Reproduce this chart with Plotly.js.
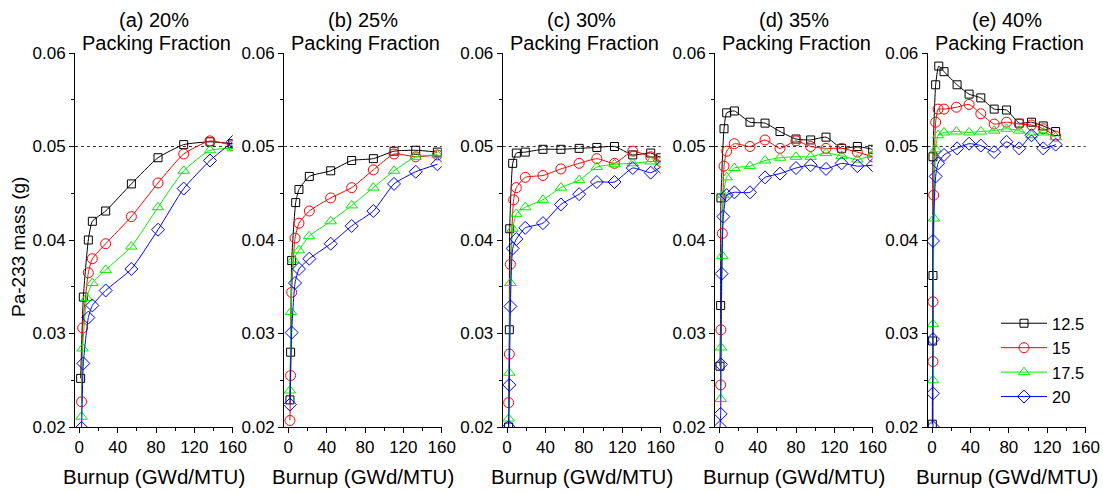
<!DOCTYPE html>
<html><head><meta charset="utf-8">
<script src="https://cdn.plot.ly/plotly-3.0.1.min.js"></script>
<style>html,body{margin:0;padding:0;background:#fff}#chart{width:1103px;height:493px}</style>
</head><body><div id="chart"></div>
<script>
// Panel titles and series names
const panelTitles = ["(a) 20%", "(b) 25%", "(c) 30%", "(d) 35%", "(e) 40%"];
const subTitle = "Packing Fraction";
const seriesNames = ["12.5", "15", "17.5", "20"];
const xTickVals = [0, 40, 80, 120, 160];
const yTickVals = [0.02, 0.03, 0.04, 0.05, 0.06];
const refLine = 0.05;

// (a) 20%
const a_x125 = [1.4, 4.2, 9.4, 13.6, 27.5, 54.3, 82.1, 108.9, 136.3, 160];
const a_y125 = [0.0252, 0.0339, 0.0400, 0.0420, 0.0431, 0.0460, 0.0488, 0.0502, 0.0505, 0.0503];
const a_x15 = [2.4, 3.5, 9.4, 13.6, 27.5, 54.3, 82.1, 108.9, 136.3, 160];
const a_y15 = [0.0227, 0.0306, 0.0365, 0.0380, 0.0396, 0.0425, 0.0461, 0.0492, 0.0506, 0.0501];
const a_x175 = [2.4, 3.5, 7.7, 13.6, 27.5, 54.3, 82.1, 108.9, 136.3, 160];
const a_y175 = [0.0211, 0.0284, 0.0338, 0.0354, 0.0368, 0.0393, 0.0435, 0.0474, 0.0496, 0.0498];
const a_x20 = [2.4, 4.2, 9.4, 13.6, 27.5, 54.3, 82.1, 108.9, 136.3, 160];
const a_y20 = [0.0199, 0.0268, 0.0317, 0.0330, 0.0346, 0.0369, 0.0411, 0.0455, 0.0485, 0.0505];

// (b) 25%
const b_x125 = [1.7, 2.4, 3.5, 7.7, 11.1, 21.9, 44.2, 66.1, 88.7, 110.3, 132.9, 155.5];
const b_y125 = [0.0229, 0.0280, 0.0378, 0.0440, 0.0454, 0.0468, 0.0474, 0.0485, 0.0487, 0.0495, 0.0496, 0.0494];
const b_x15 = [1.7, 2.4, 3.5, 7.0, 11.1, 21.9, 44.2, 66.1, 88.7, 110.3, 132.9, 155.5];
const b_y15 = [0.0207, 0.0255, 0.0344, 0.0402, 0.0418, 0.0431, 0.0445, 0.0456, 0.0475, 0.0492, 0.0489, 0.0491];
const b_x175 = [1.7, 2.8, 5.2, 11.1, 21.6, 44.2, 66.1, 88.7, 110.3, 132.9, 155.5];
const b_y175 = [0.0239, 0.0323, 0.0379, 0.0389, 0.0404, 0.0420, 0.0437, 0.0456, 0.0474, 0.0489, 0.0491];
const b_x20 = [1.7, 3.5, 7.0, 11.1, 21.9, 44.2, 66.1, 88.7, 110.3, 132.9, 155.5];
const b_y20 = [0.0224, 0.0301, 0.0354, 0.0369, 0.0380, 0.0396, 0.0415, 0.0431, 0.0460, 0.0473, 0.0481];

// (c) 30%
const c_x125 = [1.7, 2.4, 2.8, 5.9, 9.7, 19.0, 37.4, 56.1, 75.1, 93.5, 111.9, 130.9, 149.6, 160];
const c_y125 = [0.0200, 0.0304, 0.0412, 0.0482, 0.0493, 0.0494, 0.0497, 0.0497, 0.0498, 0.0499, 0.0500, 0.0491, 0.0493, 0.0488];
const c_x15 = [1.7, 2.4, 3.5, 6.9, 9.7, 19.0, 37.4, 56.1, 75.1, 93.5, 111.9, 130.9, 149.6, 160];
const c_y15 = [0.0226, 0.0278, 0.0374, 0.0443, 0.0456, 0.0467, 0.0469, 0.0476, 0.0482, 0.0487, 0.0482, 0.0495, 0.0489, 0.0484];
const c_x175 = [1.7, 2.4, 3.5, 5.9, 9.7, 19.0, 37.4, 56.1, 75.1, 93.5, 111.9, 130.9, 149.6, 160];
const c_y175 = [0.0209, 0.0258, 0.0354, 0.0412, 0.0428, 0.0435, 0.0443, 0.0456, 0.0464, 0.0478, 0.0481, 0.0482, 0.0484, 0.0484];
const c_x20 = [1.7, 2.4, 3.5, 5.9, 9.7, 19.0, 37.4, 56.1, 75.1, 93.5, 111.9, 130.9, 149.6, 160];
const c_y20 = [0.0200, 0.0245, 0.0329, 0.0391, 0.0401, 0.0413, 0.0418, 0.0438, 0.0449, 0.0462, 0.0462, 0.0477, 0.0472, 0.0478];

// (d) 35%
const d_x125 = [0.7, 1.4, 1.7, 4.9, 7.7, 15.7, 32.0, 47.7, 63.3, 80.0, 95.3, 111.3, 127.6, 144.0, 160];
const d_y125 = [0.0265, 0.0330, 0.0445, 0.0519, 0.0536, 0.0538, 0.0526, 0.0525, 0.0516, 0.0508, 0.0507, 0.0510, 0.0498, 0.0500, 0.0497];
const d_x15 = [1.4, 1.7, 3.1, 4.9, 7.7, 15.7, 32.0, 47.7, 63.3, 80.0, 95.3, 111.3, 127.6, 144.0, 160];
const d_y15 = [0.0245, 0.0304, 0.0407, 0.0479, 0.0495, 0.0503, 0.0500, 0.0507, 0.0498, 0.0506, 0.0500, 0.0498, 0.0498, 0.0494, 0.0489];
const d_x175 = [1.4, 1.7, 3.1, 4.2, 7.7, 15.7, 32.0, 47.7, 63.3, 80.0, 95.3, 111.3, 127.6, 144.0, 160];
const d_y175 = [0.0230, 0.0285, 0.0383, 0.0448, 0.0467, 0.0477, 0.0479, 0.0485, 0.0488, 0.0489, 0.0489, 0.0493, 0.0490, 0.0486, 0.0491];
const d_x20 = [0.7, 1.4, 1.7, 2.4, 4.2, 7.7, 15.7, 32.0, 47.7, 63.3, 80.0, 95.3, 111.3, 127.6, 144.0, 160];
const d_y20 = [0.0200, 0.0214, 0.0267, 0.0364, 0.0425, 0.0448, 0.0451, 0.0451, 0.0467, 0.0471, 0.0477, 0.0480, 0.0476, 0.0482, 0.0479, 0.0480];

// (e) 40%
const e_x125 = [0.3, 0.6, 1.0, 1.0, 3.8, 7.0, 12.5, 26.1, 38.6, 50.8, 64.7, 77.6, 90.8, 103.6, 115.8, 128.7];
const e_y125 = [0.0203, 0.0292, 0.0362, 0.0489, 0.0566, 0.0586, 0.0580, 0.0566, 0.0556, 0.0552, 0.0540, 0.0539, 0.0525, 0.0526, 0.0522, 0.0516];
const e_x15 = [1.0, 1.0, 1.7, 3.8, 6.3, 12.5, 25.4, 38.6, 50.8, 64.7, 77.6, 90.8, 103.6, 115.8, 128.7];
const e_y15 = [0.0270, 0.0334, 0.0448, 0.0526, 0.0540, 0.0540, 0.0542, 0.0545, 0.0535, 0.0524, 0.0526, 0.0524, 0.0523, 0.0519, 0.0511];
const e_x175 = [1.0, 1.0, 2.1, 3.8, 6.3, 12.5, 25.4, 38.6, 50.8, 64.7, 77.6, 90.8, 103.6, 115.8, 128.7];
const e_y175 = [0.0250, 0.0310, 0.0423, 0.0497, 0.0512, 0.0515, 0.0516, 0.0515, 0.0516, 0.0517, 0.0519, 0.0517, 0.0512, 0.0515, 0.0510];
const e_x20 = [1.0, 1.0, 1.0, 1.0, 3.8, 6.3, 12.5, 26.1, 38.6, 50.8, 64.7, 77.6, 90.8, 103.6, 115.8, 128.7];
const e_y20 = [0.0200, 0.0236, 0.0294, 0.0399, 0.0468, 0.0482, 0.0491, 0.0498, 0.0503, 0.0501, 0.0494, 0.0505, 0.0498, 0.0512, 0.0498, 0.0502];

const panels = [
  [[a_x125, a_y125], [a_x15, a_y15], [a_x175, a_y175], [a_x20, a_y20]],
  [[b_x125, b_y125], [b_x15, b_y15], [b_x175, b_y175], [b_x20, b_y20]],
  [[c_x125, c_y125], [c_x15, c_y15], [c_x175, c_y175], [c_x20, c_y20]],
  [[d_x125, d_y125], [d_x15, d_y15], [d_x175, d_y175], [d_x20, d_y20]],
  [[e_x125, e_y125], [e_x15, e_y15], [e_x175, e_y175], [e_x20, e_y20]]
];

const colors = ["#000000", "#ff0000", "#00ee00", "#0000ff"];
const symbols = ["square-open", "circle-open", "triangle-up-open", "diamond-open"];
const msize = [8, 10, 10, 10];

const W = 1103, H = 493;
const xPix = [[75, 232.7], [284, 441.7], [502.7, 660.7], [715, 872.7], [927.7, 1085.7]];
const yDom = [1 - 427 / H, 1 - 53 / H];
const FONT = "Liberation Sans, Arial, sans-serif";

const traces = [];
const layout = {
  width: W, height: H, autosize: false,
  margin: {l: 0, r: 0, t: 0, b: 0},
  paper_bgcolor: "#fff", plot_bgcolor: "rgba(0,0,0,0)",
  font: {family: FONT, size: 17, color: "#000"},
  showlegend: true,
  legend: {x: 996 / W, y: 1 - 306 / H, xanchor: "left", yanchor: "top", bgcolor: "rgba(0,0,0,0)",
           font: {size: 16.5, family: FONT}, tracegroupgap: 0, itemwidth: 46},
  annotations: [], shapes: []
};

panels.forEach((p, i) => {
  const n = i === 0 ? "" : String(i + 1);
  const xa = "x" + n, ya = "y" + n;
  p.forEach((s, k) => {
    traces.push({
      x: s[0], y: s[1], xaxis: xa, yaxis: ya, type: "scatter", mode: "lines+markers",
      name: seriesNames[k], showlegend: i === 4,
      line: {color: colors[k], width: 1, shape: "spline", smoothing: 0.5},
      marker: {symbol: symbols[k], size: msize[k], color: colors[k], line: {width: 1, color: colors[k]}}
    });
  });
  const dom = [xPix[i][0] / W, xPix[i][1] / W];
  layout["xaxis" + n] = {
    domain: dom, range: [-4.5, 160], anchor: ya,
    showline: true, linecolor: "#000", linewidth: 1, mirror: false,
    ticks: "outside", ticklen: 5, tickwidth: 1, tickcolor: "#000",
    tickvals: xTickVals, showgrid: false, zeroline: false,
    minor: {dtick: 20, tick0: 0, ticks: "outside", ticklen: 3, tickcolor: "#000", showgrid: false},
    tickfont: {size: 17, family: FONT}
  };
  layout["yaxis" + n] = {
    domain: yDom, range: [0.02, 0.06], anchor: xa,
    showline: true, linecolor: "#000", linewidth: 1,
    ticks: "outside", ticklen: 5, tickwidth: 1, tickcolor: "#000",
    tickvals: yTickVals, tickformat: ".2f", showgrid: false, zeroline: false,
    minor: {dtick: 0.005, tick0: 0, ticks: "outside", ticklen: 3, tickcolor: "#000", showgrid: false},
    tickfont: {size: 17, family: FONT}
  };
  layout.shapes.push({type: "line", xref: xa + " domain", yref: ya, x0: 0, x1: 1, y0: refLine, y1: refLine,
    line: {color: "#333", width: 1, dash: "dot"}, layer: "below"});
  const cx = (dom[0] + dom[1]) / 2;
  layout.annotations.push({text: panelTitles[i], xref: "paper", yref: "paper",
    x: cx, y: 1 - 20 / H, xanchor: "center", yanchor: "middle", showarrow: false,
    font: {size: 20, family: FONT}});
  layout.annotations.push({text: subTitle, xref: "paper", yref: "paper",
    x: cx + 3 / W, y: 1 - 43 / H, xanchor: "center", yanchor: "middle", showarrow: false,
    font: {size: 20, family: FONT}});
  layout.annotations.push({text: "Burnup (GWd/MTU)", xref: "paper", yref: "paper",
    x: cx, y: 1 - 476 / H, xanchor: "center", yanchor: "middle", showarrow: false,
    font: {size: 20.5, family: FONT}});
});
layout.annotations.push({text: "Pa-233 mass (g)", xref: "paper", yref: "paper",
  x: 18 / W, y: 1 - 247 / H, xanchor: "center", yanchor: "middle", showarrow: false, textangle: -90,
  font: {size: 19, family: FONT}});

Plotly.newPlot("chart", traces, layout, {displayModeBar: false, staticPlot: true});
</script></body></html>
